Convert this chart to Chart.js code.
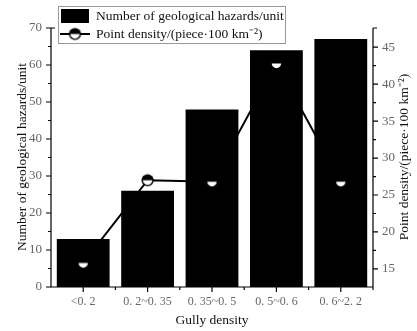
<!DOCTYPE html>
<html>
<head>
<meta charset="utf-8">
<script src="https://cdn.jsdelivr.net/npm/chart.js@4/dist/chart.umd.min.js"></script>
<style>
html,body{margin:0;padding:0;background:#fff;}
#wrap{width:417px;height:331px;position:relative;}
</style>
</head>
<body>
<div id="wrap"><canvas id="c" width="417" height="331"></canvas></div>
<script>
const categories = ['<0. 2', '0. 2~0. 35', '0. 35~0. 5', '0. 5~0. 6', '0. 6~2. 2'];
const hazardCounts = [13, 26, 48, 64, 67];
const pointDensity = [15.8, 27.0, 26.8, 42.8, 26.8];
const leftTicks = [0, 10, 20, 30, 40, 50, 60, 70];
const rightTicks = [15, 20, 25, 30, 35, 40, 45];
const barLabel = 'Number of geological hazards/unit';
const lineLabel = 'Point density/(piece\u00b7100 km\u207b\u00b2)';
const xTitle = 'Gully density';

const SERIF = '"Liberation Serif", "Times New Roman", serif';

// half-filled circle marker
function makeMarker(r) {
  const s = Math.ceil(r * 2 + 4);
  const cv = document.createElement('canvas');
  cv.width = s; cv.height = s;
  const g = cv.getContext('2d');
  const c = s / 2;
  g.fillStyle = '#000';
  g.beginPath(); g.arc(c, c, r + 0.6, 0, Math.PI * 2); g.fill();
  g.fillStyle = '#fff';
  g.beginPath(); g.arc(c, c, r - 0.8, 0, Math.PI); g.closePath(); g.fill();
  return cv;
}
const marker = makeMarker(5.5);

const decor = {
  id: 'decor',
  afterDraw(chart) {
    const ctx = chart.ctx;
    const a = chart.chartArea;
    const yL = chart.scales.y, yR = chart.scales.y1, x = chart.scales.x;
    ctx.save();
    ctx.strokeStyle = '#000';
    ctx.lineWidth = 1.2;
    // axis lines
    ctx.beginPath();
    ctx.moveTo(a.left, a.top); ctx.lineTo(a.left, a.bottom); ctx.lineTo(a.right, a.bottom);
    ctx.moveTo(a.right, a.top); ctx.lineTo(a.right, a.bottom + 3);
    ctx.moveTo(a.left, a.top); ctx.lineTo(a.left + 4, a.top);
    ctx.moveTo(a.right, a.top); ctx.lineTo(a.right + 4, a.top);
    ctx.stroke();
    // left ticks
    ctx.beginPath();
    leftTicks.forEach(v => { const p = yL.getPixelForValue(v); ctx.moveTo(a.left - 5, p); ctx.lineTo(a.left, p); });
    for (let i = 0; i < leftTicks.length - 1; i++) {
      const p = yL.getPixelForValue((leftTicks[i] + leftTicks[i + 1]) / 2);
      ctx.moveTo(a.left - 3, p); ctx.lineTo(a.left, p);
    }
    // right ticks
    rightTicks.forEach(v => { const p = yR.getPixelForValue(v); ctx.moveTo(a.right, p); ctx.lineTo(a.right + 5, p); });
    for (let i = 0; i < rightTicks.length - 1; i++) {
      const p = yR.getPixelForValue((rightTicks[i] + rightTicks[i + 1]) / 2);
      ctx.moveTo(a.right, p); ctx.lineTo(a.right + 3, p);
    }
    // x ticks
    categories.forEach((c, i) => { const p = x.getPixelForValue(i); ctx.moveTo(p, a.bottom); ctx.lineTo(p, a.bottom + 5); });
    for (let i = 0; i < categories.length - 1; i++) {
      const p = (x.getPixelForValue(i) + x.getPixelForValue(i + 1)) / 2;
      ctx.moveTo(p, a.bottom); ctx.lineTo(p, a.bottom + 3);
    }
    ctx.stroke();

    // titles
    ctx.fillStyle = '#111';
    ctx.font = '13.5px ' + SERIF;
    ctx.textAlign = 'center'; ctx.textBaseline = 'middle';
    ctx.fillText(xTitle, (a.left + a.right) / 2, 320);
    ctx.save();
    ctx.translate(22, 157);
    ctx.rotate(-Math.PI / 2);
    ctx.fillText(barLabel, 0, 0);
    ctx.restore();
    ctx.save();
    ctx.translate(404, 157);
    ctx.rotate(-Math.PI / 2);
    ctx.fillText(lineLabel, 0, 0);
    ctx.restore();

    // legend
    ctx.fillStyle = '#fff';
    ctx.fillRect(58.5, 6.5, 227, 37);
    ctx.strokeStyle = '#999'; ctx.lineWidth = 1;
    ctx.strokeRect(58.5, 6.5, 227, 37);
    ctx.fillStyle = '#000';
    ctx.fillRect(61, 9, 28, 14);
    ctx.strokeStyle = '#000'; ctx.lineWidth = 2;
    ctx.beginPath(); ctx.moveTo(60, 34); ctx.lineTo(90, 34); ctx.stroke();
    const lm = makeMarker(5.5);
    const g = lm.getContext('2d');
    ctx.drawImage(lm, 75 - lm.width / 2, 34 - lm.height / 2);
    ctx.fillStyle = '#111';
    ctx.font = '13.5px ' + SERIF;
    ctx.textAlign = 'left'; ctx.textBaseline = 'middle';
    ctx.fillText(barLabel, 96, 16);
    ctx.fillText(lineLabel, 96, 34);
    ctx.restore();
  }
};

new Chart(document.getElementById('c'), {
  data: {
    labels: categories,
    datasets: [
      {
        type: 'line', label: lineLabel, data: pointDensity, yAxisID: 'y1',
        borderColor: '#000', borderWidth: 2, pointStyle: marker,
        pointRadius: 6, tension: 0, order: 0
      },
      {
        type: 'bar', label: barLabel, data: hazardCounts, yAxisID: 'y',
        backgroundColor: '#000', borderWidth: 0,
        barPercentage: 0.82, categoryPercentage: 1, order: 1
      }
    ]
  },
  options: {
    responsive: false,
    animation: false,
    layout: { padding: { top: 28, left: 0, right: 0, bottom: 0 } },
    plugins: { legend: { display: false }, tooltip: { enabled: false } },
    scales: {
      x: {
        grid: { display: false, drawTicks: false },
        border: { display: false },
        ticks: { color: '#666', font: { family: SERIF, size: 12 }, padding: 8, maxRotation: 0 },
        afterFit: s => { s.height = 44; }
      },
      y: {
        position: 'left', min: 0, max: 70,
        grid: { display: false, drawTicks: false },
        border: { display: false },
        ticks: { color: '#666', font: { family: SERIF, size: 13 }, padding: 9, stepSize: 10 },
        afterBuildTicks: s => { s.ticks = leftTicks.map(v => ({ value: v })); },
        afterFit: s => { s.width = 51; }
      },
      y1: {
        position: 'right', min: 12.55, max: 47.6,
        grid: { display: false, drawTicks: false },
        border: { display: false },
        ticks: { color: '#666', font: { family: SERIF, size: 13 }, padding: 9 },
        afterBuildTicks: s => { s.ticks = rightTicks.map(v => ({ value: v })); },
        afterFit: s => { s.width = 44; }
      }
    }
  },
  plugins: [decor]
});
</script>
</body>
</html>
